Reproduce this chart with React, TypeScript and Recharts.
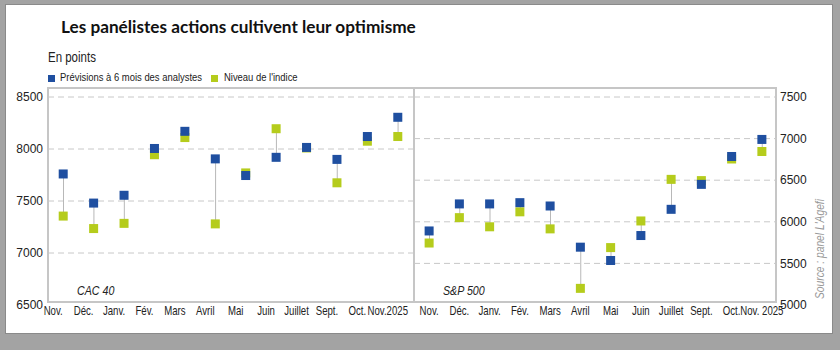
import React from 'react'
import {
  ComposedChart, Bar, Line, XAxis, YAxis, CartesianGrid,
} from 'recharts'

// months shown under each panel (no August in the source)
const monthsCac = ['Nov.', 'Déc.', 'Janv.', 'Fév.', 'Mars', 'Avril', 'Mai', 'Juin', 'Juillet', 'Sept.', 'Oct.', 'Nov.2025']
const monthsSp = ['Nov.', 'Déc.', 'Janv.', 'Fév.', 'Mars', 'Avril', 'Mai', 'Juin', 'Juillet', 'Sept.', 'Oct.', 'Nov. 2025']

const cacPrevisions = [7760, 7480, 7555, 8005, 8170, 7905, 7745, 7920, 8015, 7900, 8120, 8305]
const cacIndice = [7355, 7235, 7285, 7945, 8110, 7280, 7770, 8195, 8010, 7675, 8075, 8120]
const spPrevisions = [5890, 6215, 6215, 6230, 6190, 5695, 5535, 5835, 6150, 6450, 6785, 6990]
const spIndice = [5745, 6050, 5940, 6120, 5915, 5200, 5690, 6010, 6510, 6495, 6755, 6845]

const cacTicks = [6500, 7000, 7500, 8000, 8500]
const spTicks = [5000, 5500, 6000, 6500, 7000, 7500]

const BLUE = '#1f4fa0'
const GREEN = '#b5cc1c'
const SANS = '"Liberation Sans", Arial, sans-serif'
const NARROW_X = 0.82 // Arial squeezed to look like the condensed face of the source

const build = (months: string[], prev: number[], ind: number[]) =>
  months.map((m, i) => ({
    month: m,
    prev: prev[i],
    ind: ind[i],
    range: [Math.min(prev[i], ind[i]), Math.max(prev[i], ind[i])],
  }))

const cacData = build(monthsCac, cacPrevisions, cacIndice)
const spData = build(monthsSp, spPrevisions, spIndice)

const square = (color: string) => (props: any) => {
  const { cx, cy, index } = props
  if (cx == null || cy == null) return <g key={index} />
  return <rect key={index} x={cx - 4.5} y={cy - 4.5} width={9} height={9} fill={color} />
}

const MonthTick = ({ x, y, payload, shift }: any) => (
  <g transform={`translate(${x + shift},${y})`}>
    <text
      transform="scale(0.77,1)"
      textAnchor="middle"
      dy="0.72em"
      fontSize={12.5}
      fontFamily={SANS}
      fill="#222"
    >
      {payload.value}
    </text>
  </g>
)

const Panel = ({ data, ticks, domain, right, shift }: any) => (
  <ComposedChart
    width={413}
    height={245}
    data={data}
    margin={{ top: 17, right: 0, left: 0, bottom: 0 }}
  >
    <CartesianGrid
      vertical={false}
      stroke="#c8c8c8"
      strokeDasharray="6 4"
      horizontalValues={ticks.slice(1)}
    />
    <XAxis
      dataKey="month"
      interval={0}
      axisLine={false}
      tickLine={false}
      tickSize={0}
      tickMargin={1}
      height={20}
      tick={<MonthTick shift={shift} />}
    />
    <YAxis
      orientation={right ? 'right' : 'left'}
      domain={domain}
      ticks={ticks}
      width={right ? 50 : 48}
      axisLine={false}
      tickLine={false}
      tickSize={0}
      tickMargin={right ? 3 : 5}
      tick={{ fontSize: 12, fill: '#222', fontFamily: SANS }}
    />
    <Bar dataKey="range" barSize={1} fill="#b8b8b8" isAnimationActive={false} />
    <Line dataKey="ind" stroke="none" dot={square(GREEN)} activeDot={false} isAnimationActive={false} />
    <Line dataKey="prev" stroke="none" dot={square(BLUE)} activeDot={false} isAnimationActive={false} />
  </ComposedChart>
)

const abs = (l: number, t: number, extra: React.CSSProperties = {}): React.CSSProperties => ({
  position: 'absolute', left: l, top: t, ...extra,
})

const narrow = (size: number, extra: React.CSSProperties = {}): React.CSSProperties => ({
  fontFamily: SANS, fontSize: size, color: '#222', whiteSpace: 'nowrap',
  transform: `scaleX(${NARROW_X})`, transformOrigin: 'left top', ...extra,
})

export default function App() {
  return (
    <div style={abs(0, 0, { width: 840, height: 350, background: '#a3a3a3', overflow: 'hidden' })}>
      <div style={abs(5, 4, { width: 826, height: 328, background: '#fff', border: '1px solid #8a8a8a' })} />

      <div style={abs(61, 16, { fontFamily: 'Lato, sans-serif', fontWeight: 700, fontSize: 17.2, color: '#111', whiteSpace: 'nowrap' })}>
        Les panélistes actions cultivent leur optimisme
      </div>
      <div style={abs(48, 49, narrow(14))}>En points</div>

      <div style={abs(48, 71, { display: 'flex', alignItems: 'center', height: 14 })}>
        <span style={{ width: 7, height: 7, background: BLUE }} />
        <span style={{ ...narrow(11.5), position: 'absolute', left: 12, top: 0 }}>Prévisions à 6 mois des analystes</span>
        <span style={{ position: 'absolute', left: 163, top: 3.5, width: 7, height: 7, background: GREEN }} />
        <span style={{ ...narrow(11.5), position: 'absolute', left: 176, top: 0 }}>Niveau de l'indice</span>
      </div>

      {/* panel frames */}
      <div style={abs(47, 87, { width: 364, height: 212, border: '2px solid #c6c6c6' })} />
      <div style={abs(411, 87, { width: 364, height: 212, border: '2px solid #c6c6c6', borderLeft: 'none' })} />

      <div style={abs(0, 80)}>
        <Panel data={cacData} ticks={cacTicks} domain={[6500, 8500]} shift={-10} />
      </div>
      <div style={abs(414, 80)}>
        <Panel data={spData} ticks={spTicks} domain={[5000, 7500]} right shift={0} />
      </div>

      <div style={abs(77, 283, narrow(13, { fontStyle: 'italic' }))}>CAC 40</div>
      <div style={abs(443, 283, narrow(13, { fontStyle: 'italic' }))}>S&amp;P 500</div>

      <div style={abs(813, 299, {
        fontFamily: SANS, fontStyle: 'italic', fontSize: 12.5, color: '#999', whiteSpace: 'nowrap',
        transform: `rotate(-90deg) scaleX(${NARROW_X})`, transformOrigin: 'left top',
      })}>
        Source : panel L'Agefi
      </div>
    </div>
  )
}
